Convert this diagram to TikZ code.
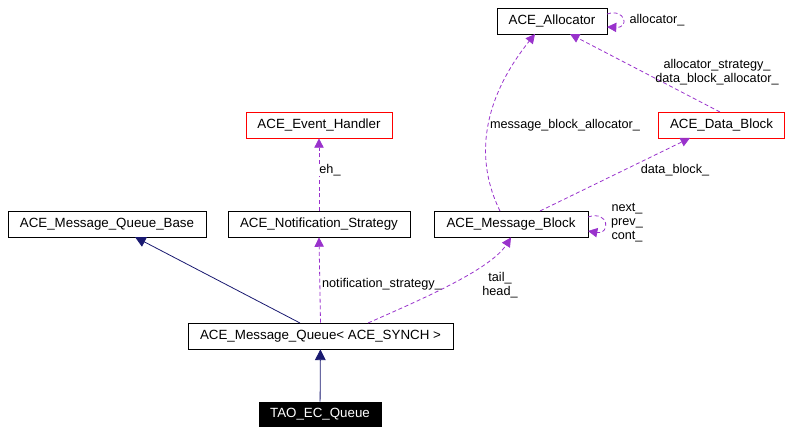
\documentclass[tikz,border=0pt]{standalone}
\usepackage{fontspec}
\setmainfont{Liberation Sans}
\usetikzlibrary{arrows.meta}
\definecolor{pur}{RGB}{153,50,204}
\definecolor{nav}{RGB}{25,25,112}
\begin{document}
\begin{tikzpicture}[x=0.75pt,y=-0.75pt,line width=0.6pt,
  box/.style={draw=black,minimum height=19.5pt,inner sep=0pt,font=\fontsize{10}{11}\selectfont,fill=white},
  red/.style={box,draw=red},
  dep/.style={pur,densely dashed,-{Triangle[open,length=7pt,width=7pt,fill=pur]}},
  inh/.style={nav,-{Triangle[open,length=8pt,width=8pt,fill=nav]}},
  lab/.style={font=\fontsize{9.5}{10.5}\selectfont,align=center,inner sep=0pt}]
\useasboundingbox (0,0) rectangle (791,434);
\node[box,minimum width=82.5pt] (alloc) at (552,21) {ACE\_Allocator};
\node[red,minimum width=109.5pt] (eh) at (319,125) {ACE\_Event\_Handler};
\node[red,minimum width=95pt] (db) at (721.5,125) {ACE\_Data\_Block};
\node[box,minimum width=148.5pt] (mqb) at (107,224) {ACE\_Message\_Queue\_Base};
\node[box,minimum width=136.5pt] (ns) at (319,224) {ACE\_Notification\_Strategy};
\node[box,minimum width=115.5pt] (mb) at (511,224) {ACE\_Message\_Block};
\node[box,minimum width=198.75pt] (mq) at (320.5,336) {ACE\_Message\_Queue< ACE\_SYNCH >};
\node[box,fill=black,text=white,minimum width=91.5pt,minimum height=18pt] (tao) at (320,414) {TAO\_EC\_Queue};
\draw[inh] (tao) -- (mq);
\draw[inh] (300,323) -- (135,237);
\draw[dep] (mq.north) -- (ns.south);
\node[lab] at (382,284) {notification\_strategy\_};
\draw[dep] (ns.north) -- (eh.south);
\node[lab,fill=white] at (330,170) {eh\_};
\draw[dep] (368,323) .. controls (420,300) and (490,270) .. (mb.south);
\node[lab] at (500,285) {tail\_\\head\_};
\draw[dep] (500,211) .. controls (470,150) and (490,90) .. (535,34);
\node[lab] at (565,125) {message\_block\_allocator\_};
\draw[dep] (540,211) -- (690,138);
\node[lab] at (675,170) {data\_block\_};
\draw[dep] (720,112) -- (570,34);
\node[lab] at (717,72) {allocator\_strategy\_\\data\_block\_allocator\_};
\draw[dep] (607,14) .. controls (625,8) and (630,28) .. (607,27);
\node[lab] at (657,20) {allocator\_};
\draw[dep] (588,217) .. controls (610,210) and (610,235) .. (588,231);
\node[lab] at (627,223) {next\_\\prev\_\\cont\_};
\end{tikzpicture}
\end{document}
